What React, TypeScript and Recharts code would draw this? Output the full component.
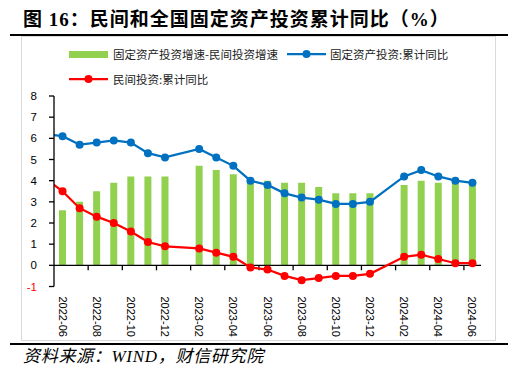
import React from 'react';
import { ComposedChart, Bar, Line, XAxis, YAxis, ReferenceLine } from 'recharts';

// ---- data ----
const months = [
  '2022-06', '2022-07', '2022-08', '2022-09', '2022-10', '2022-11', '2022-12',
  '2023-01', '2023-02', '2023-03', '2023-04', '2023-05', '2023-06', '2023-07',
  '2023-08', '2023-09', '2023-10', '2023-11', '2023-12',
  '2024-01', '2024-02', '2024-03', '2024-04', '2024-05', '2024-06',
];
const spreadGap: (number | null)[] = [
  2.6, 3.0, 3.5, 3.9, 4.2, 4.2, 4.2,
  null, 4.7, 4.5, 4.3, 4.0, 4.0, 3.9,
  3.9, 3.7, 3.4, 3.4, 3.4,
  null, 3.8, 4.0, 3.9, 3.9, 3.8,
];
const faiYoY: (number | null)[] = [
  6.1, 5.7, 5.8, 5.9, 5.8, 5.3, 5.1,
  null, 5.5, 5.1, 4.7, 4.0, 3.8, 3.4,
  3.2, 3.1, 2.9, 2.9, 3.0,
  null, 4.2, 4.5, 4.2, 4.0, 3.9,
];
const privateYoY: (number | null)[] = [
  3.5, 2.7, 2.3, 2.0, 1.6, 1.1, 0.9,
  null, 0.8, 0.6, 0.4, -0.1, -0.2, -0.5,
  -0.7, -0.6, -0.5, -0.5, -0.4,
  null, 0.4, 0.5, 0.3, 0.1, 0.1,
];
// the month before the visible window (line enters from the left edge)
const priorMonth = '2022-05';
const priorFai = 6.2;
const priorPrivate = 4.1;

const yTicks = [-1, 0, 1, 2, 3, 4, 5, 6, 7, 8];
const labelMonths = months.filter((_, i) => i % 2 === 0);

const SERIES_GAP = '固定资产投资增速-民间投资增速';
const SERIES_FAI = '固定资产投资:累计同比';
const SERIES_PRIV = '民间投资:累计同比';
const TITLE = '图 16：民间和全国固定资产投资累计同比（%）';
const SOURCE = '资料来源：WIND，财信研究院';

const GREEN = '#92D050';
const BLUE = '#0070C0';
const RED = '#FF0000';

// ---- derived table ----
const data = [
  { x: -0.5, month: priorMonth, gap: null, fai: priorFai, priv: priorPrivate },
  ...months.map((m, i) => ({
    x: i + 0.5,
    month: m,
    gap: spreadGap[i],
    fai: faiYoY[i],
    priv: privateYoY[i],
  })),
];
const xTicks = labelMonths.map((m) => months.indexOf(m) + 0.5);
const tickBoundaries = labelMonths.slice(1).map((m) => months.indexOf(m));

const AXIS_FONT = "'Liberation Sans', Arial, sans-serif";
const CJK_FONT = "'Noto Sans CJK SC', 'Liberation Sans', sans-serif";

const XTick = (props: any) => {
  const { x, y, payload } = props;
  const idx = Math.round(payload.value - 0.5);
  return (
    <text
      transform={`translate(${x},${y}) rotate(90)`}
      textAnchor="start"
      dominantBaseline="central"
      fontSize={11}
      fontFamily={AXIS_FONT}
      fill="#000"
    >
      {months[idx]}
    </text>
  );
};

const YTick = (props: any) => {
  const { x, y, payload } = props;
  return (
    <text
      x={x}
      y={y}
      textAnchor="end"
      dominantBaseline="central"
      fontSize={11.5}
      fontFamily={AXIS_FONT}
      fill={payload.value < 0 ? RED : '#000'}
    >
      {payload.value}
    </text>
  );
};

const ZeroAxis = (props: any) => {
  const { x1, y1, x2 } = props;
  const span = x2 - x1;
  return (
    <g>
      <line x1={x1} y1={y1} x2={x2} y2={y1} stroke="#000" strokeWidth={1.3} />
      {tickBoundaries.map((b) => {
        const tx = x1 + (span * b) / months.length;
        return <line key={b} x1={tx} x2={tx} y1={y1} y2={y1 + 5} stroke="#000" strokeWidth={1.3} />;
      })}
    </g>
  );
};

const LegendLine = ({ left, top, color }: { left: number; top: number; color: string }) => (
  <svg style={{ position: 'absolute', left, top: top - 6 }} width={40} height={12}>
    <line x1={0} y1={6} x2={39} y2={6} stroke={color} strokeWidth={2.25} />
    <circle cx={19.5} cy={6} r={4} fill={color} />
  </svg>
);

const legendText: React.CSSProperties = {
  position: 'absolute',
  fontSize: 11.5,
  lineHeight: '14px',
  fontFamily: CJK_FONT,
  color: '#222',
  whiteSpace: 'nowrap',
};

export default function App() {
  return (
    <div
      style={{
        position: 'absolute',
        left: 0,
        top: 0,
        width: 523,
        height: 378,
        background: '#fff',
        overflow: 'hidden',
      }}
    >
      {/* title */}
      <div
        style={{
          position: 'absolute',
          left: 23,
          top: 9,
          fontSize: 19,
          lineHeight: '22px',
          fontWeight: 'bold',
          fontFamily: "'Liberation Serif', 'Noto Sans CJK SC', serif",
          letterSpacing: 1,
          color: '#000',
          whiteSpace: 'nowrap',
        }}
      >
        {TITLE}
      </div>
      <div style={{ position: 'absolute', left: 10, top: 34, width: 498, height: 2, background: '#000' }} />
      {/* chart frame */}
      <div
        style={{
          position: 'absolute',
          left: 21,
          top: 36,
          width: 473,
          height: 303,
          border: '1.5px solid #d9d9d9',
        }}
      />
      {/* legend */}
      <div style={{ position: 'absolute', left: 69, top: 51, width: 39, height: 7, background: GREEN }} />
      <div style={{ ...legendText, left: 113, top: 47 }}>{SERIES_GAP}</div>
      <LegendLine left={287} top={54} color={BLUE} />
      <div style={{ ...legendText, left: 330, top: 47 }}>{SERIES_FAI}</div>
      <LegendLine left={69} top={79} color={RED} />
      <div style={{ ...legendText, left: 113, top: 72 }}>{SERIES_PRIV}</div>

      <div style={{ position: 'absolute', left: 0, top: 0 }}>
        <ComposedChart
          width={523}
          height={378}
          data={data}
          margin={{ top: 96, right: 42, bottom: 36.5, left: 14 }}
        >
          <XAxis
            dataKey="x"
            type="number"
            domain={[0, months.length]}
            allowDataOverflow
            ticks={xTicks}
            interval={0}
            tick={<XTick />}
            tickLine={false}
            axisLine={false}
            tickSize={0}
            tickMargin={10}
            height={55}
          />
          <YAxis
            type="number"
            domain={[-1, 8]}
            ticks={yTicks}
            interval={0}
            width={40}
            tick={<YTick />}
            tickSize={5}
            tickMargin={12}
            axisLine={{ stroke: '#000', strokeWidth: 1.3 }}
            tickLine={{ stroke: '#000', strokeWidth: 1.3 }}
            allowDataOverflow
          />
          <Bar dataKey="gap" name={SERIES_GAP} fill={GREEN} barSize={7} isAnimationActive={false} />
          <ReferenceLine y={0} shape={<ZeroAxis />} />
          <Line
            dataKey="fai"
            name={SERIES_FAI}
            stroke={BLUE}
            strokeWidth={2.25}
            dot={{ r: 4, fill: BLUE, stroke: BLUE, strokeWidth: 0 }}
            connectNulls
            isAnimationActive={false}
          />
          <Line
            dataKey="priv"
            name={SERIES_PRIV}
            stroke={RED}
            strokeWidth={2.25}
            dot={{ r: 4, fill: RED, stroke: RED, strokeWidth: 0 }}
            connectNulls
            isAnimationActive={false}
          />
        </ComposedChart>
      </div>

      <div style={{ position: 'absolute', left: 10, top: 343, width: 498, height: 2, background: '#000' }} />
      <div
        style={{
          position: 'absolute',
          left: 23,
          top: 347,
          fontSize: 17,
          lineHeight: '20px',
          fontStyle: 'italic',
          fontFamily: "'Liberation Serif', 'Noto Sans CJK SC', serif",
          letterSpacing: 0.7,
          color: '#000',
          whiteSpace: 'nowrap',
        }}
      >
        {SOURCE}
      </div>
    </div>
  );
}
